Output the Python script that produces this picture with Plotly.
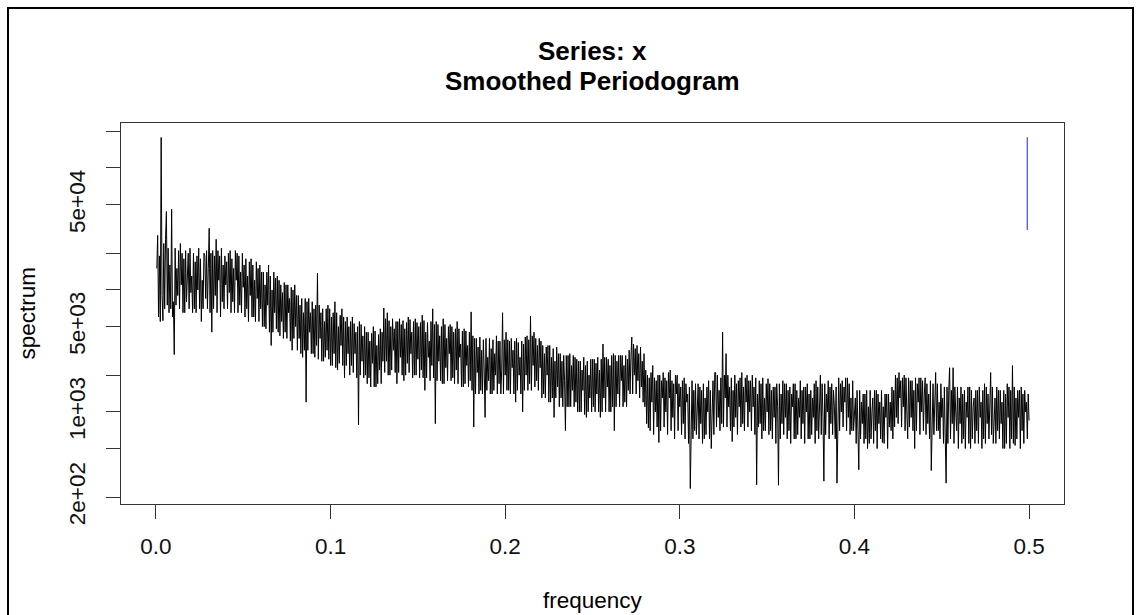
import plotly.graph_objects as go

# ---- data, one row per 0.01 of frequency ----
spectrum = [
    15000, 28000, 6000, 19000, 5500, 178000, 9000, 5600, 24000, 7000, 26000, 44000, 7500, 22000, 6500, 16000, 7000, 46000, 6000, 8000,
    2950, 22000, 7500, 15000, 9000, 21000, 7000, 24000, 11000, 20000, 6500, 18000, 6500, 21000, 8000, 14000, 20000, 7000, 22000, 9500,
    13000, 6500, 20000, 7000, 17000, 6500, 19000, 10000, 22000, 7000, 18000, 5500, 12000, 7000, 20000, 19000, 8500, 21000, 7000, 15000,
    32000, 6500, 20000, 4500, 21000, 7000, 19000, 9000, 26000, 6500, 21000, 12000, 19000, 6000, 22000, 8000, 16000, 7000, 19000, 11000,
    17000, 7000, 20000, 9500, 21000, 6500, 18000, 8000, 15000, 6500, 21000, 12000, 20000, 6500, 19000, 7500, 14000, 6500, 20000, 10500,
    16000, 6000, 18000, 7000, 13000, 5500, 17000, 9000, 18000, 6000, 16000, 6000, 12000, 5500, 17000, 8500, 15000, 5500, 16000, 7000,
    14000, 5000, 14000, 5000, 11000, 4800, 14000, 7500, 16000, 4500, 13000, 3500, 10000, 4500, 14000, 6500, 12500, 4800, 13000, 4500,
    12000, 4200, 11000, 5500, 9500, 4000, 11500, 4500, 11000, 4000, 11000, 6500, 8500, 3800, 10500, 3200, 10000, 4000, 11000, 5000,
    9000, 3200, 9000, 4000, 7500, 3000, 8500, 2800, 6500, 3200, 8500, 1200, 8000, 3200, 8500, 4500, 6500, 3000, 8000, 3000,
    7000, 2800, 7500, 3500, 13700, 2700, 7500, 4000, 6500, 2600, 7000, 2600, 5500, 2800, 7000, 3200, 7500, 2700, 7000, 2400,
    6000, 2400, 6500, 3000, 8000, 2300, 6500, 2200, 5000, 2500, 6200, 3500, 7000, 2400, 6000, 1900, 5500, 2400, 6000, 3000,
    5000, 2000, 5500, 2400, 6000, 2100, 5300, 3000, 4500, 1900, 5000, 780, 5500, 2000, 5200, 2600, 4200, 1900, 5000, 2000,
    4500, 1700, 4500, 1900, 3800, 1600, 4400, 2500, 5000, 1600, 4600, 1600, 3500, 1700, 4300, 2200, 4800, 1700, 4500, 2600,
    7100, 2100, 5800, 2600, 6500, 2000, 5600, 2000, 5000, 2200, 5800, 3200, 4800, 2100, 5500, 1700, 5500, 2100, 5800, 2800,
    5200, 2000, 5600, 1800, 4800, 2000, 5400, 2500, 6000, 2100, 5700, 3000, 4500, 1900, 5500, 2000, 5800, 2000, 5400, 2700,
    5000, 1900, 5400, 2200, 6200, 1900, 5600, 1500, 4500, 1900, 5400, 2800, 3800, 1800, 5500, 2400, 7000, 1900, 5200, 800,
    5500, 1800, 5200, 2600, 4200, 1800, 5000, 1700, 5800, 1700, 5200, 2300, 4000, 1800, 5000, 3000, 5200, 1800, 5000, 1900,
    4500, 1700, 4800, 2200, 5500, 1700, 4800, 2800, 3600, 1600, 4600, 1600, 4800, 1700, 4600, 2400, 3500, 1600, 4500, 1800,
    6600, 1500, 4200, 750, 4000, 1400, 4000, 2100, 3400, 1400, 4100, 1500, 3200, 1400, 3900, 2200, 900, 4000, 1500, 2800,
    1800, 4000, 1400, 3300, 1400, 3900, 1500, 3000, 2000, 4200, 1400, 3800, 1700, 3800, 1400, 2200, 6500, 1400, 3900, 2000,
    4500, 1500, 3900, 1500, 3800, 1400, 4000, 2300, 3200, 1400, 3800, 1200, 4000, 1500, 3700, 2000, 2800, 1400, 3800, 1000,
    3600, 1500, 4100, 2000, 4200, 1500, 3900, 1700, 6100, 1500, 4200, 2400, 4500, 1600, 4000, 1800, 3500, 1500, 4000, 2300,
    3800, 1300, 3500, 1400, 3000, 1300, 3400, 2000, 3500, 1200, 3500, 1200, 2800, 1300, 3300, 900, 2600, 1300, 3400, 1600,
    3000, 1100, 3000, 1300, 2600, 1100, 2900, 1800, 700, 2900, 1100, 2900, 1100, 3000, 1100, 2400, 1500, 2900, 1100, 2800,
    1200, 2700, 1000, 2600, 1000, 2600, 1000, 2200, 1500, 2800, 950, 2400, 900, 2600, 1000, 2000, 1300, 2700, 1000, 2700,
    1100, 2700, 1000, 2500, 1400, 2800, 1000, 2200, 900, 2700, 1000, 3600, 1300, 2800, 1000, 2800, 1600, 2700, 1000, 2400,
    1000, 2900, 1100, 3000, 700, 2900, 1100, 2600, 1400, 2900, 1100, 2900, 1800, 2900, 1100, 2400, 1200, 2900, 1100, 2700,
    1500, 3200, 1400, 2800, 4100, 1400, 3600, 2000, 3300, 1400, 3500, 1800, 3000, 1300, 3400, 1600, 2600, 1200, 3000, 1100,
    2200, 800, 2000, 740, 1900, 700, 2100, 1200, 2400, 650, 1900, 1000, 1800, 750, 2000, 560, 2000, 700, 1800, 1300,
    2100, 750, 1900, 1000, 1800, 650, 2100, 1300, 2200, 700, 1800, 900, 1700, 600, 2000, 1400, 2000, 700, 1700, 1100,
    1600, 650, 1800, 800, 1900, 600, 1700, 1200, 1400, 550, 1600, 235, 1000, 1800, 600, 1500, 700, 1700, 650, 1300,
    1700, 600, 1600, 800, 1500, 550, 1700, 600, 1300, 650, 1600, 1000, 1800, 600, 1500, 500, 1200, 1800, 650, 2100,
    2100, 750, 2000, 900, 1500, 700, 1900, 800, 4500, 750, 2000, 1300, 3000, 750, 2000, 1100, 1600, 700, 1900, 570,
    1500, 750, 2000, 900, 1700, 650, 1800, 1100, 1900, 750, 2100, 800, 1600, 700, 1900, 1200, 2000, 750, 1800, 1000,
    1800, 700, 2000, 1100, 1600, 650, 1900, 252, 1400, 750, 1800, 800, 1700, 600, 1900, 700, 1300, 700, 1700, 1000,
    1870, 650, 1700, 700, 1500, 600, 1600, 900, 1600, 550, 1700, 1100, 250, 1700, 600, 1400, 800, 1800, 650, 1700,
    900, 1700, 600, 1500, 700, 1600, 550, 1400, 1100, 1700, 600, 1700, 600, 1500, 650, 1300, 900, 1800, 600, 1500,
    800, 1600, 550, 1600, 1000, 1700, 600, 1400, 600, 1500, 650, 1300, 900, 1700, 550, 1800, 700, 1600, 600, 1200,
    2000, 650, 1700, 900, 270, 1700, 650, 1400, 1000, 1800, 600, 1600, 800, 1700, 650, 1500, 1100, 600, 1600, 260,
    1300, 1900, 700, 1700, 1000, 1800, 750, 1600, 1200, 1900, 700, 1900, 900, 1700, 650, 1300, 700, 1800, 700, 1100,
    1300, 550, 1500, 700, 335, 1500, 600, 1200, 800, 1400, 550, 1400, 600, 1500, 500, 1100, 550, 1500, 600, 1000,
    1300, 550, 1500, 700, 1500, 500, 1400, 800, 1200, 600, 1500, 560, 1100, 550, 1400, 900, 1400, 500, 1400, 750,
    1200, 700, 1600, 600, 1500, 750, 2000, 900, 1900, 800, 2100, 1300, 1800, 750, 1900, 1100, 2000, 700, 1900, 1000,
    600, 1900, 750, 1800, 900, 1800, 700, 1500, 500, 1900, 700, 1700, 1200, 1900, 650, 1900, 1000, 1800, 700, 1400,
    1900, 650, 1700, 800, 1400, 600, 1800, 330, 1100, 1700, 650, 1600, 2100, 700, 1700, 700, 1200, 600, 1700, 900,
    1300, 550, 1600, 600, 260, 1600, 550, 1500, 2300, 600, 1500, 800, 2300, 550, 1600, 1000, 700, 1600, 500, 1300,
    800, 1600, 550, 1400, 600, 1500, 500, 1200, 900, 1600, 550, 1600, 500, 1500, 600, 1100, 1300, 550, 1500, 700,
    1500, 550, 1600, 900, 1200, 500, 1500, 600, 1700, 550, 1600, 800, 1400, 600, 1600, 2100, 650, 1600, 550, 1100,
    1300, 550, 1600, 700, 1500, 600, 1500, 800, 1200, 500, 1500, 500, 1400, 550, 1700, 900, 1600, 500, 1500, 600,
    2400, 550, 1600, 530, 1300, 600, 1500, 900, 1500, 500, 1600, 700, 1400, 550, 1500, 1000, 1200, 600, 1400, 850,
]
freq_step = 0.0005
frequency = [round((i + 1) * freq_step, 5) for i in range(len(spectrum))]

ci_freq = [0.499, 0.499]
ci_bounds = [31000, 179000]

x_tickvals = [0.0, 0.1, 0.2, 0.3, 0.4, 0.5]
x_ticktext = ["0.0", "0.1", "0.2", "0.3", "0.4", "0.5"]
y_tickvals = [200, 500, 1000, 2000, 5000, 10000, 20000, 50000, 100000, 200000]
y_ticktext = ["2e+02", "", "1e+03", "", "5e+03", "", "", "5e+04", "", ""]

title_line1 = "Series: x"
title_line2 = "Smoothed Periodogram"
x_label = "frequency"
y_label = "spectrum"

# ---- layout geometry (pixels) ----
W, H = 1140, 615
L, R, T, B = 121, 1064, 123, 504
pw, ph = R - L, B - T


def px_x(px):
    return (px - L) / pw


def px_y(py):
    return (B - py) / ph


FONT = "Liberation Sans, Arial, sans-serif"
AXC = "#333333"

fig = go.Figure()
fig.add_trace(go.Scatter(
    x=frequency, y=spectrum, mode="lines",
    line=dict(color="black", width=1.0), hoverinfo="skip", showlegend=False,
))
fig.add_trace(go.Scatter(
    x=ci_freq, y=ci_bounds, mode="lines",
    line=dict(color="#5a5aff", width=1.4), hoverinfo="skip", showlegend=False,
))

fig.update_layout(
    width=W, height=H,
    margin=dict(l=L, r=W - R, t=T, b=H - B, pad=0),
    paper_bgcolor="white", plot_bgcolor="white",
    font=dict(family=FONT, color="black", size=22.5),
    showlegend=False,
)
fig.update_xaxes(
    range=[-0.02, 0.52], tickvals=x_tickvals, ticktext=x_ticktext,
    showgrid=False, zeroline=False,
    showline=True, mirror=True, linecolor=AXC, linewidth=1,
    ticks="outside", ticklen=14, tickcolor=AXC, tickwidth=1,
    tickfont=dict(size=22.5, family=FONT, color="#111"),
    ticklabelstandoff=8,
)
fig.update_yaxes(
    type="log", range=[2.244, 5.369], tickvals=y_tickvals, ticktext=y_ticktext,
    showgrid=False, zeroline=False,
    showline=True, mirror=True, linecolor=AXC, linewidth=1,
    ticks="outside", ticklen=14, tickcolor=AXC, tickwidth=1,
    tickangle=-90,
    tickfont=dict(size=22.5, family=FONT, color="#111"),
    ticklabelstandoff=12,
)

annots = [
    dict(text="<b>%s</b>" % title_line1, x=0.5, y=px_y(51), xref="paper", yref="paper",
         xanchor="center", yanchor="middle", showarrow=False,
         font=dict(size=26, family=FONT, color="black")),
    dict(text="<b>%s</b>" % title_line2, x=0.5, y=px_y(81), xref="paper", yref="paper",
         xanchor="center", yanchor="middle", showarrow=False,
         font=dict(size=26, family=FONT, color="black")),
    dict(text=x_label, x=0.5, y=px_y(600), xref="paper", yref="paper",
         xanchor="center", yanchor="middle", showarrow=False,
         font=dict(size=22.5, family=FONT, color="black")),
    dict(text=y_label, x=px_x(27), y=0.5, xref="paper", yref="paper",
         xanchor="center", yanchor="middle", showarrow=False, textangle=-90,
         font=dict(size=22.5, family=FONT, color="black")),
]
fig.update_layout(annotations=annots)

# outer frame of the figure
fig.add_shape(type="rect", xref="paper", yref="paper",
              x0=px_x(8), x1=px_x(1133), y0=px_y(640), y1=px_y(8),
              line=dict(color="black", width=2), fillcolor="rgba(0,0,0,0)", layer="above")

fig.write_html("out.html")
